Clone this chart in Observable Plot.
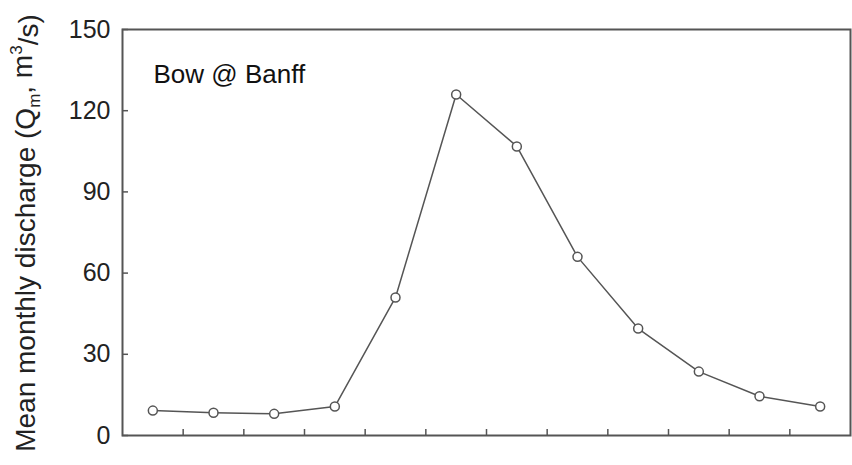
<!DOCTYPE html>
<html><head><meta charset="utf-8">
<script src="https://cdn.jsdelivr.net/npm/d3@7"></script>
<script src="https://cdn.jsdelivr.net/npm/@observablehq/plot@0.6"></script>
<style>body{margin:0;background:#fff}</style>
</head><body><div id="chart"></div>
<script>
const months = [1,2,3,4,5,6,7,8,9,10,11,12];
const discharge = [9.2, 8.4, 8.0, 10.7, 51, 126, 106.8, 66, 39.5, 23.6, 14.5, 10.7];
const yTicks = [0,30,60,90,120,150];
const monthBoundaries = [1.5,2.5,3.5,4.5,5.5,6.5,7.5,8.5,9.5,10.5,11.5];
const stationLabel = "Bow @ Banff";

const W = 852, H = 465, mL = 122, mR = 2, mT = 29, mB = 30;
const data = months.map((m, i) => ({month: m, q: discharge[i]}));
const font = "'Liberation Sans', Arial, sans-serif";

const plot = Plot.plot({
  width: W, height: H, marginLeft: mL, marginRight: mR, marginTop: mT, marginBottom: mB,
  style: {fontFamily: font, background: "#fff", overflow: "visible"},
  x: {domain: [0.5, 12.5], axis: null},
  y: {domain: [0, 150], axis: null},
  marks: [
    Plot.ruleY(yTicks, {y: d => d, stroke: "#555", strokeWidth: 1.5, insetRight: W - mL - mR - 6}),
    Plot.ruleX(monthBoundaries, {x: d => d, stroke: "#555", strokeWidth: 1.5, insetTop: H - mT - mB - 6}),
    Plot.axisY({ticks: yTicks, tickSize: 0, tickPadding: 12, fontSize: 25, label: null, fill: "#222"}),
    Plot.frame({stroke: "#555", strokeWidth: 2}),
    Plot.line(data, {x: "month", y: "q", stroke: "#555", strokeWidth: 1.5}),
    Plot.dot(data, {x: "month", y: "q", r: 4.5, fill: "white", stroke: "#555", strokeWidth: 1.5}),
    Plot.text([stationLabel], {text: d => d, frameAnchor: "top-left", dx: 31, dy: 35, fontSize: 26, textAnchor: "start", fill: "#111"})
  ]
});

const svg = d3.select(plot);
const lab = svg.append("text")
  .attr("transform", "translate(35,233) rotate(-90)")
  .attr("text-anchor", "middle")
  .attr("fill", "#222")
  .style("font-family", font)
  .style("font-size", "28px");
lab.append("tspan").text("Mean monthly discharge (Q");
lab.append("tspan").attr("dy", "0.3em").style("font-size", "17px").text("m");
lab.append("tspan").attr("dy", "-0.3em").text(", m");
lab.append("tspan").attr("dy", "-0.6em").style("font-size", "17px").text("3");
lab.append("tspan").attr("dy", "0.6em").text("/s)");

document.getElementById("chart").append(plot);
</script>
</body></html>
